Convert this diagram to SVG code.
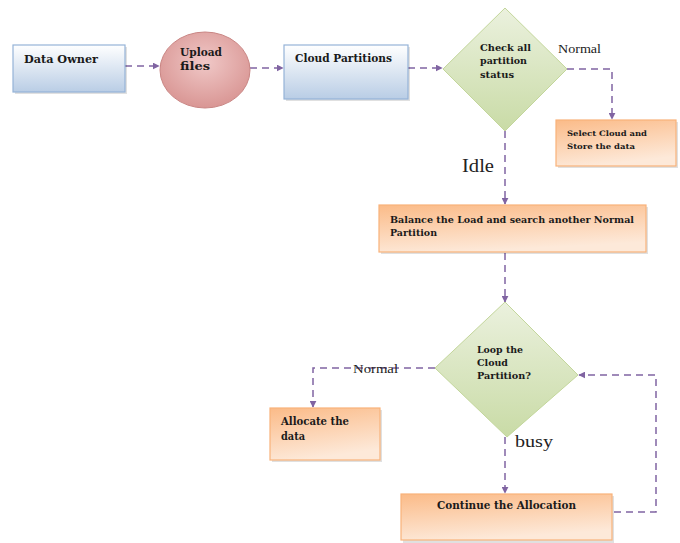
<svg xmlns="http://www.w3.org/2000/svg" width="680" height="543" viewBox="0 0 680 543">
<style>
.conn{fill:none;stroke:#8064a2;stroke-width:1.5;stroke-dasharray:7 5}
.t{font-family:"DejaVu Serif","Liberation Serif",serif;font-weight:bold;fill:#1a1a1a}
.lbl{font-family:"Liberation Serif","DejaVu Serif",serif;fill:#222}
.blue{fill:url(#gBlue);stroke:#95b3d7;stroke-width:1.2}
.orange{fill:url(#gOrange);stroke:#f8b27a;stroke-width:1.2}
.green{fill:url(#gGreen);stroke:#c3d69b;stroke-width:1}
.pink{fill:url(#gPink);stroke:#c98583;stroke-width:1}
.sh{fill:#000;opacity:0.12}
</style>
<defs>
<linearGradient id="gBlue" x1="0" y1="0" x2="0" y2="1"><stop offset="0" stop-color="#ffffff"/><stop offset="1" stop-color="#b9cde5"/></linearGradient>
<linearGradient id="gOrange" x1="0" y1="0" x2="0.3" y2="1"><stop offset="0" stop-color="#fbbb88"/><stop offset="1" stop-color="#fde9d9"/></linearGradient>
<linearGradient id="gGreen" x1="0" y1="0" x2="0" y2="1"><stop offset="0" stop-color="#ebf1de"/><stop offset="1" stop-color="#c9dba6"/></linearGradient>
<radialGradient id="gPink" cx="0.5" cy="0.4" r="0.6"><stop offset="0" stop-color="#f0c8c7"/><stop offset="1" stop-color="#d99694"/></radialGradient>
<marker id="arr" viewBox="0 0 10 10" refX="9" refY="5" markerWidth="7" markerHeight="7" orient="auto" markerUnits="userSpaceOnUse"><path d="M0,0 L10,5 L0,10 z" fill="#8064a2"/></marker>
</defs>

<g id="connectors">
<path class="conn" d="M125,66 L159,66" marker-end="url(#arr)"/>
<path class="conn" d="M250,68 L283,68" marker-end="url(#arr)"/>
<path class="conn" d="M408,68 L442,68" marker-end="url(#arr)"/>
<path class="conn" d="M567,69 L612,69 L612,119" marker-end="url(#arr)"/>
<path class="conn" d="M505,131 L505,204" marker-end="url(#arr)"/>
<path class="conn" d="M505,253 L505,302" marker-end="url(#arr)"/>
<path class="conn" d="M435,368 L313,368 L313,407" marker-end="url(#arr)"/>
<path class="conn" d="M505,437 L505,493" marker-end="url(#arr)"/>
<path class="conn" d="M614,512 L656,512 L656,375 L579,375" marker-end="url(#arr)"/>
</g>

<g id="data-owner">
<rect class="sh" x="15" y="47" width="112" height="47"/>
<rect class="blue" x="13" y="45" width="112" height="47"/>
<text class="t" x="24" y="63" font-size="10.5" textLength="74" lengthAdjust="spacingAndGlyphs">Data Owner</text>
</g>

<g id="upload-files">
<ellipse class="pink" cx="205" cy="70" rx="45" ry="38"/>
<text class="t" x="180" y="56" font-size="10.5" textLength="42" lengthAdjust="spacingAndGlyphs">Upload</text>
<text class="t" x="180" y="70" font-size="10.5" textLength="30" lengthAdjust="spacingAndGlyphs">files</text>
</g>

<g id="cloud-partitions">
<rect class="sh" x="286" y="47" width="124" height="54"/>
<rect class="blue" x="284" y="45" width="124" height="54"/>
<text class="t" x="295" y="62" font-size="10.5" textLength="97" lengthAdjust="spacingAndGlyphs">Cloud Partitions</text>
</g>

<g id="check-status">
<polygon class="green" points="505,8 567,69 505,131 443,69"/>
<text class="t" x="480" y="51" font-size="9" textLength="51" lengthAdjust="spacingAndGlyphs">Check all</text>
<text class="t" x="480" y="64" font-size="9" textLength="47" lengthAdjust="spacingAndGlyphs">partition</text>
<text class="t" x="480" y="78" font-size="9" textLength="34" lengthAdjust="spacingAndGlyphs">status</text>
<text class="lbl" x="558" y="53" font-size="11.5" fill="#555" textLength="43" lengthAdjust="spacingAndGlyphs">Normal</text>
</g>

<g id="select-cloud">
<rect class="sh" x="558" y="122" width="120" height="46"/>
<rect class="orange" x="556" y="120" width="120" height="46"/>
<text class="t" x="567" y="136" font-size="7.5" textLength="80" lengthAdjust="spacingAndGlyphs">Select Cloud and</text>
<text class="t" x="567" y="149" font-size="7.5" textLength="68" lengthAdjust="spacingAndGlyphs">Store the data</text>
</g>

<text class="lbl" x="462" y="172" font-size="18" textLength="32" lengthAdjust="spacingAndGlyphs">Idle</text>

<g id="balance-load">
<rect class="sh" x="381" y="207" width="267" height="47"/>
<rect class="orange" x="379" y="205" width="267" height="47"/>
<text class="t" x="390" y="223" font-size="9.5" textLength="244" lengthAdjust="spacingAndGlyphs">Balance the Load and search another Normal</text>
<text class="t" x="390" y="236" font-size="9.5" textLength="47" lengthAdjust="spacingAndGlyphs">Partition</text>
</g>

<g id="loop-partition">
<polygon class="green" points="505,302 578,375 507,437 435,368"/>
<text class="t" x="477" y="353" font-size="9" textLength="46" lengthAdjust="spacingAndGlyphs">Loop the</text>
<text class="t" x="477" y="366" font-size="9" textLength="31" lengthAdjust="spacingAndGlyphs">Cloud</text>
<text class="t" x="477" y="379" font-size="9" textLength="54" lengthAdjust="spacingAndGlyphs">Partition?</text>
<text class="lbl" x="353" y="373" font-size="12" fill="#333" textLength="45" lengthAdjust="spacingAndGlyphs">Normal</text>
</g>

<g id="allocate-data">
<rect class="sh" x="272" y="410" width="110" height="52"/>
<rect class="orange" x="270" y="408" width="110" height="52"/>
<text class="t" x="281" y="425" font-size="10.5" textLength="68" lengthAdjust="spacingAndGlyphs">Allocate the</text>
<text class="t" x="281" y="440" font-size="10.5" textLength="24" lengthAdjust="spacingAndGlyphs">data</text>
</g>

<text class="lbl" x="515" y="447" font-size="16" textLength="38" lengthAdjust="spacingAndGlyphs">busy</text>

<g id="continue-allocation">
<rect class="sh" x="403" y="496" width="211" height="47"/>
<rect class="orange" x="401" y="494" width="211" height="46"/>
<text class="t" x="437" y="509" font-size="10.5" textLength="139" lengthAdjust="spacingAndGlyphs">Continue the Allocation</text>
</g>
</svg>
